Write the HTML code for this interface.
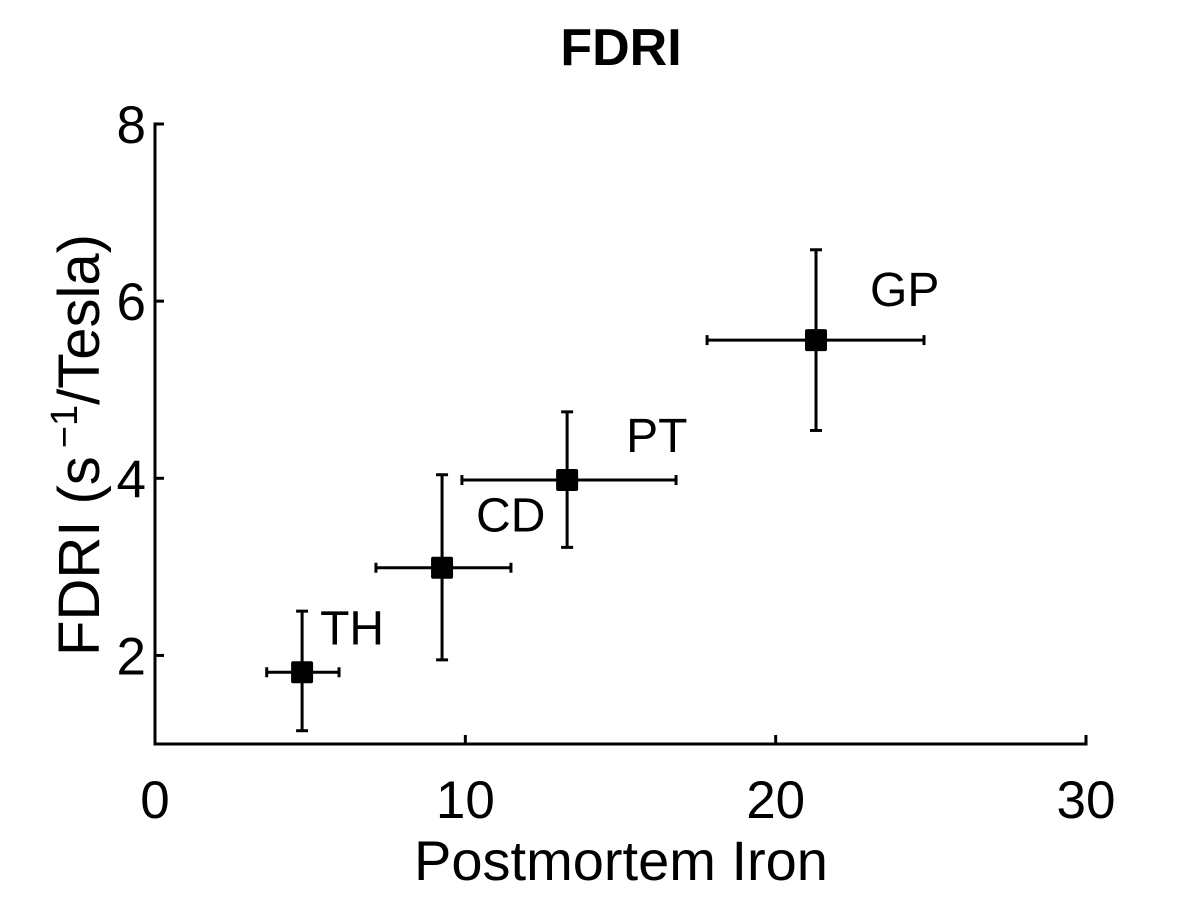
<!DOCTYPE html>
<html><head><meta charset="utf-8"><style>
html,body{margin:0;padding:0;background:#fff;}
svg{display:block;font-family:"Liberation Sans",sans-serif;}
</style></head><body>
<svg id="chart" width="1200" height="900" viewBox="0 0 1200 900">
<text x="621" y="65" text-anchor="middle" font-size="52" font-weight="bold">FDRI</text>
<g id="axes"></g>
<g id="marks"></g>
<text x="621" y="880" text-anchor="middle" font-size="56">Postmortem Iron</text>
<text transform="translate(99,445) rotate(-90)" text-anchor="middle" font-size="58">FDRI (s<tspan dx="8" dy="-22" font-size="38">−1</tspan><tspan dy="22">/Tesla)</tspan></text>
</svg>
<script>
const regions = ["TH","CD","PT","GP"];
const ironValues = [4.74, 9.25, 13.28, 21.3];
const ironLow = [3.6, 7.12, 9.89, 17.79];
const ironHigh = [5.93, 11.47, 16.79, 24.78];
const fdriValues = [1.81, 2.99, 3.98, 5.56];
const fdriLow = [1.15, 1.95, 3.22, 4.54];
const fdriHigh = [2.5, 4.04, 4.75, 6.58];
const xTicks = [0, 10, 20, 30];
const yTicks = [2, 4, 6, 8];

const NS = "http://www.w3.org/2000/svg";
const X0 = 155, X1 = 1086, Y0 = 744, Y1 = 124;
const xScale = v => X0 + (v - 0) / 30 * (X1 - X0);
const yScale = v => Y0 - (v - 1) / 7 * (Y0 - Y1);
function mk(tag, attrs, parent) {
  const e = document.createElementNS(NS, tag);
  for (const k in attrs) e.setAttribute(k, attrs[k]);
  parent.appendChild(e);
  return e;
}
const axes = document.getElementById("axes");
const marks = document.getElementById("marks");
let el;
el = mk("line", {x1: X0, y1: Y0, x2: X1 + 1.5, y2: Y0, stroke: "#000", "stroke-width": 3}, axes);


el = mk("line", {x1: X0, y1: Y0 + 1.5, x2: X0, y2: Y1 - 1.5, stroke: "#000", "stroke-width": 3}, axes);


xTicks.forEach(t => {
  const x = xScale(t);
  el = mk("line", {x1: x, y1: Y0, x2: x, y2: Y0 - 9, stroke: "#000", "stroke-width": 3}, axes);
  
  
  el = mk("text", {x: x, y: 818, "text-anchor": "middle", "font-size": 53}, axes);
  el.textContent = t;
  
  
});
yTicks.forEach(t => {
  const y = yScale(t);
  el = mk("line", {x1: X0, y1: y, x2: X0 + 9, y2: y, stroke: "#000", "stroke-width": 3}, axes);
  
  
  el = mk("text", {x: 146, y: y + 19, "text-anchor": "end", "font-size": 53}, axes);
  el.textContent = t;
  
  
});
const labelDx = [18, 34, 59, 54];
const labelDy = [-28, -36, -28, -34];
regions.forEach((r, i) => {
  const cx = xScale(ironValues[i]), cy = yScale(fdriValues[i]);
  const g = mk("g", {}, marks);
  
  
  const s = {stroke: "#000", "stroke-width": 3};
  const xl = xScale(ironLow[i]), xh = xScale(ironHigh[i]);
  const yl = yScale(fdriLow[i]), yh = yScale(fdriHigh[i]);
  el = mk("line", Object.assign({x1: xl, y1: cy, x2: xh, y2: cy}, s), g);
  
  
  mk("line", Object.assign({x1: xl, y1: cy - 5, x2: xl, y2: cy + 5}, s), g);
  mk("line", Object.assign({x1: xh, y1: cy - 5, x2: xh, y2: cy + 5}, s), g);
  el = mk("line", Object.assign({x1: cx, y1: yl, x2: cx, y2: yh}, s), g);
  
  
  mk("line", Object.assign({x1: cx - 6, y1: yl, x2: cx + 6, y2: yl}, s), g);
  mk("line", Object.assign({x1: cx - 6, y1: yh, x2: cx + 6, y2: yh}, s), g);
  el = mk("rect", {x: cx - 11, y: cy - 11, width: 22, height: 22, rx: 2, fill: "#000"}, g);
  
  
  el = mk("text", {x: cx + labelDx[i], y: cy + labelDy[i], "font-size": 48}, g);
  el.textContent = r;
  
  
});
</script>
</body></html>
